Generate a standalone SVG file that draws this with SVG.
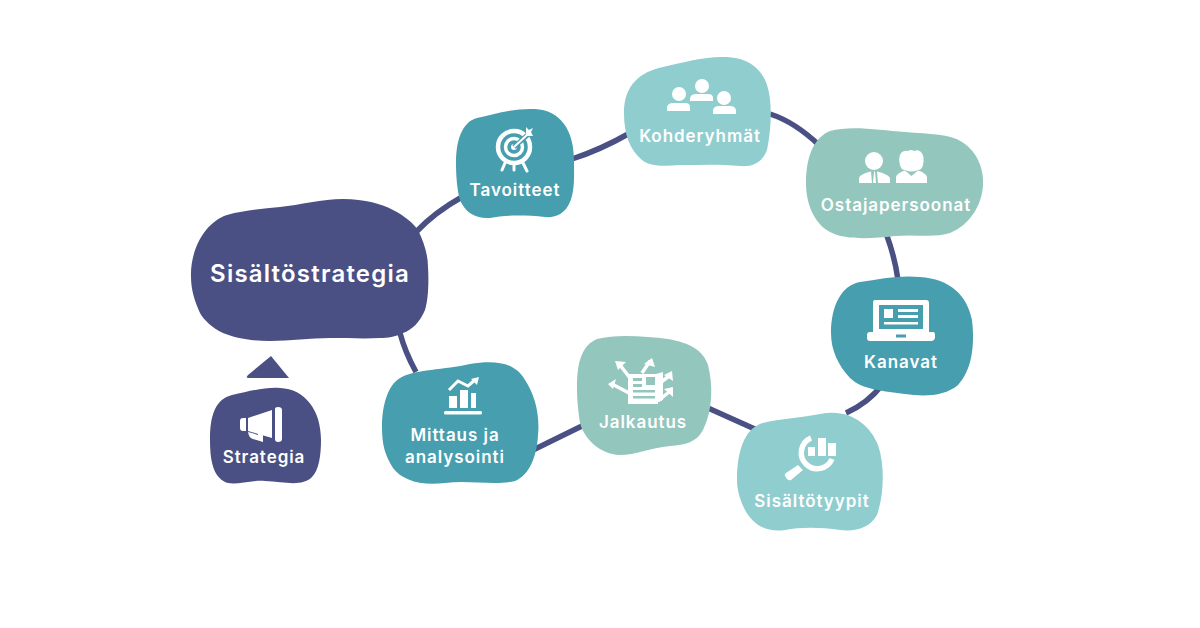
<svg xmlns="http://www.w3.org/2000/svg" width="1200" height="628" viewBox="0 0 1200 628">
<style>
.t{font-family:"Inter","Liberation Sans",sans-serif;font-weight:600;fill:#fff;text-anchor:middle;font-size:17px;letter-spacing:.95px}
.big{font-size:24px;letter-spacing:1.2px}
.navy{fill:#4a5083}.teal{fill:#479eaf}.aqua{fill:#8fcdcf}.sage{fill:#93c6bd}
.w{fill:#fff}.s{fill:none;stroke:#fff;stroke-width:3}
.c{fill:none;stroke:#4a5083;stroke-width:5.500}
</style>
<rect width="1200" height="628" fill="#fff"/>
<g id="connectors">
<path class="c" d="M416 232Q435 212 462 197"/>
<path class="c" d="M572 159Q600 150 630 133"/>
<path class="c" d="M770 114Q795 122 820 146"/>
<path class="c" d="M887 236Q895 258 898 280"/>
<path class="c" d="M846 413Q868 403 882 385"/>
<path class="c" d="M708 408L757 430"/>
<path class="c" d="M533 450L584 425"/>
<path class="c" d="M400 333Q405 352 416 372"/>
</g>
<g id="sisaltostrategia">
<path class="navy" d="M191 277C190 250 205 222 227 215C245 210 262 209 280 207C300 205 322 199 343 199C365 199 382 204 393 210C405 216 414 224 418 230C424 242 428 255 428 267C429 285 428 300 425 310C420 322 412 330 403 333C395 337 388 338 380 338C365 339 347 338 330 338C310 338 290 341 270 341C250 341 235 338 223 333C212 328 204 320 200 313C195 302 191 290 191 277Z"/>
<text class="t big" x="310" y="282">Sisältöstrategia</text>
</g>
<g id="strategia-arrow"><path class="navy" d="M271 356L289 378H249Q245 378 248 375Z"/></g>
<g id="strategia">
<path class="navy" d="M210 440C210 414 216 399 232 395C250 391 265 387 280 388C305 389 321 410 321 440C321 455 319 470 312 477C302 487 285 482 265 481C250 480 238 485 228 483C215 479 210 465 210 440Z"/>
<path class="w" d="M243 418H246V431H243Q240 431 240 428V421Q240 418 243 418ZM248 418L272 410V438L248 431ZM275 409Q275 407 278 407Q282 407 282 410V439Q282 442 278 442Q275 442 275 439ZM248 432L252 433L258 435V433L263 435V442L253 439Q249 438 248 432Z"/>
<text class="t" x="264" y="463">Strategia</text>
</g>
<g id="tavoitteet">
<path class="teal" d="M456 163C456 135 465 121 477 118C495 114 515 108 535 109C560 110 574 130 574 160C574 175 575 190 570 202C565 214 555 218 545 217C525 215 505 215 490 218C475 219 465 212 460 200C457 190 456 175 456 163Z"/>
<circle class="s" cx="514" cy="147" r="16" style="stroke-width:4.500"/>
<circle class="s" cx="514" cy="147" r="8.500" style="stroke-width:3.500"/>
<circle class="w" cx="514" cy="147" r="3"/>
<path d="M514 147L532 131" stroke="#479eaf" stroke-width="5"/>
<path d="M514 147L528 134" stroke="#fff" stroke-width="2"/>
<path class="w" d="M526 133L526 127L529 130L533 128L531 132L533 136L527 136Z"/>
<path d="M505 163L502 170M514 163V170M523 163L527 171" stroke="#fff" stroke-width="3" stroke-linecap="round"/>
<text class="t" x="515" y="196">Tavoitteet</text>
</g>
<g id="kohderyhmat">
<path class="aqua" d="M624 113C624 85 640 72 663 67C685 62 705 56 727 57C750 58 762 70 767 85C772 100 772 125 767 150C762 163 752 167 740 166C720 164 700 165 680 165C665 166 650 167 642 160C630 150 624 135 624 113Z"/>
<circle class="w" cx="679" cy="94" r="7"/><path class="w" d="M667 111V107Q668 103 673 103H685Q690 103 690 107V111Z"/>
<circle class="w" cx="702" cy="86" r="7"/><path class="w" d="M690 101V98Q691 94 696 94H708Q713 94 713 98V101Z"/>
<circle class="w" cx="724" cy="98" r="7"/><path class="w" d="M713 114V110Q714 106 719 106H730Q735 106 736 110V114Z"/>
<text class="t" x="700" y="142">Kohderyhmät</text>
</g>
<g id="ostajapersoonat">
<path class="sage" d="M806 183C806 155 815 137 830 131C850 125 880 130 905 132C930 134 950 134 962 142C978 152 984 170 983 185C982 205 970 225 950 233C935 238 915 234 895 236C870 239 845 240 830 232C815 224 806 205 806 183Z"/>
<circle class="w" cx="874" cy="161" r="9"/>
<path class="w" d="M859 183V178Q860 174 871 171.500L872 183ZM877 171.500Q888 174 890 178V183H878Z"/>
<path class="w" d="M874 172L875 171L876 183H873Z"/>
<path class="w" d="M900 165Q898 158 901 153Q904 150 908 151Q911 149 914 151Q918 149 921 152Q925 156 923 165Q922 170 918 170Q912 173 905 170Q901 170 900 165Z"/>
<path class="w" d="M896 183V177Q897 173 905 170.500L911.500 176L918 170.500Q926 173 927 177V183Z"/>
<text class="t" x="896" y="211">Ostajapersoonat</text>
</g>
<g id="kanavat">
<path class="teal" d="M831 333C831 305 842 285 860 282C880 279 900 275 920 277C950 279 967 295 972 320C975 345 972 370 958 385C945 396 925 397 905 394C885 391 862 390 850 378C838 365 831 350 831 333Z"/>
<path class="w" d="M875 300H926Q929 300 929 303V332H933Q935 332 935 335V338Q934 341 932 341H870Q867 341 867 338V335Q867 332 870 332H873V303Q873 300 875 300Z"/>
<path class="teal" d="M879 305H923V329H879ZM896 334.500H906V337.500H896Z"/>
<path class="w" d="M884 309H893V318H884ZM898 309H918V312H898ZM898 315H918V318H898ZM884 322H918V324.500H884Z"/>
<text class="t" x="901" y="368">Kanavat</text>
</g>
<g id="sisaltotyypit">
<path class="aqua" d="M737 480C737 450 745 430 760 424C775 419 800 418 820 414C850 408 870 425 878 445C885 465 884 495 877 515C870 528 855 532 840 530C820 527 800 527 785 530C765 533 752 523 745 510C740 500 737 490 737 480Z"/>
<path class="s" d="M811 438A16 16 0 1 0 832 459" style="stroke-width:5.500"/>
<path class="w" d="M808 447H815V456H808ZM818 438H826V456H818ZM828 443H836V456H828Z"/>
<path class="w" d="M798 465L803 470L791 480Q789 481 787 479L785 476Q784 474 786 473Z"/>
<text class="t" x="812" y="507">Sisältötyypit</text>
</g>
<g id="jalkautus">
<path class="sage" d="M577 387C577 360 583 345 597 339C615 334 645 336 668 339C690 343 703 350 708 365C713 385 713 410 703 430C697 442 685 445 670 446C650 448 635 455 620 455C600 454 585 440 580 423C578 410 577 400 577 387Z"/>
<path class="w" d="M628 374L656 374L663 372V400L658 402V404H628Z"/>
<path class="sage" d="M633 378H642V381H633ZM633 384H642V387H633ZM633 390H655V392.500H633ZM633 396H655V398.500H633ZM646 377H655V385H646Z"/>
<path d="M630 378L620 365M642 373L650 361M660 383L669 376M658 401L669 392M629 393L612 384" stroke="#fff" stroke-width="3.500" fill="none"/>
<path class="w" d="M615 361L626 362L618 370ZM644 364L652 358L655 367ZM664 375L672 371L673 381ZM664 389L673 387L673 397ZM608 384L616 379L613 389Z"/>
<text class="t" x="643" y="428">Jalkautus</text>
</g>
<g id="mittaus">
<path class="teal" d="M382 427C382 405 388 385 400 378C415 369 445 370 470 364C495 360 515 362 525 380C535 395 540 415 538 435C537 455 530 475 515 481C495 486 470 480 445 483C420 486 402 480 393 468C385 455 382 445 382 427Z"/>
<path class="w" d="M449 396H457V408H449ZM460 390H468V408H460ZM471 393H476V408H471Z"/>
<rect class="w" x="444" y="411" width="38" height="3.500" rx="1.500"/>
<path d="M449 390L458 381L468 386L476 379" fill="none" stroke="#fff" stroke-width="3"/>
<path class="w" d="M471 379L479 377L477 385Z"/>
<text class="t" x="455" y="441">Mittaus ja</text>
<text class="t" x="455" y="463">analysointi</text>
</g>
</svg>
